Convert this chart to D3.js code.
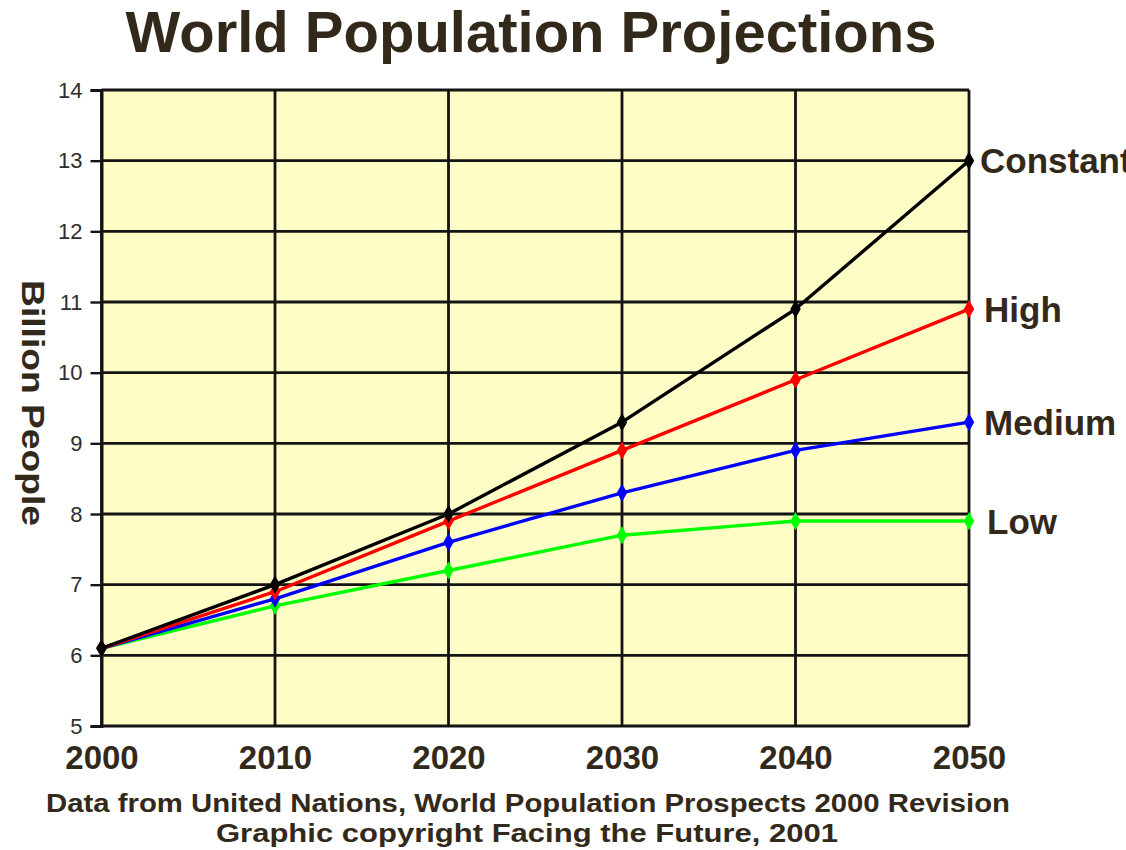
<!DOCTYPE html>
<html>
<head>
<meta charset="utf-8">
<script src="https://cdn.jsdelivr.net/npm/d3@7/dist/d3.min.js"></script>
<style>
  html, body { margin: 0; padding: 0; background: #ffffff; }
  svg { display: block; }
  text { font-family: "Liberation Sans", Arial, Helvetica, sans-serif; }
</style>
</head>
<body>
<svg id="chart" width="1126" height="850"></svg>
<script>
// Projection years and population (billions) per UN variant
const years = [2000, 2010, 2020, 2030, 2040, 2050];
const constantVals = [6.1, 7.0, 8.0, 9.3, 10.9, 13.0];
const highVals     = [6.1, 6.9, 7.9, 8.9, 9.9, 10.9];
const mediumVals   = [6.1, 6.8, 7.6, 8.3, 8.9, 9.3];
const lowVals      = [6.1, 6.7, 7.2, 7.7, 7.9, 7.9];
const seriesNames  = ["Low", "Medium", "High", "Constant"];
const yTicks = [5, 6, 7, 8, 9, 10, 11, 12, 13, 14];

const seriesValues = { Low: lowVals, Medium: mediumVals, High: highVals, Constant: constantVals };
const seriesColors = { Low: "#00ff00", Medium: "#0000ff", High: "#ff0000", Constant: "#000000" };

const textColor = "#33291a";
const gridColor = "#141414";

const svg = d3.select("#chart");
const plotLeft = 101.5, plotRight = 969, plotTop = 90, plotBottom = 726;

const x = d3.scaleLinear().domain([2000, 2050]).range([plotLeft, plotRight]);
const y = d3.scaleLinear().domain([5, 14]).range([plotBottom, plotTop]);

// Title
svg.append("text")
  .attr("x", 531).attr("y", 52)
  .attr("text-anchor", "middle")
  .style("font-size", "58px").style("font-weight", "bold")
  .attr("fill", textColor)
  .text("World Population Projections");

// Plot background
svg.append("rect")
  .attr("x", plotLeft).attr("y", plotTop)
  .attr("width", plotRight - plotLeft).attr("height", plotBottom - plotTop)
  .attr("fill", "#fffdc6");

// Horizontal gridlines
svg.append("g").selectAll("line").data(yTicks).join("line")
  .attr("x1", plotLeft).attr("x2", plotRight)
  .attr("y1", d => y(d)).attr("y2", d => y(d))
  .attr("stroke", gridColor).attr("stroke-width", 2.8);

// Vertical gridlines
svg.append("g").selectAll("line").data(years).join("line")
  .attr("x1", d => x(d)).attr("x2", d => x(d))
  .attr("y1", plotTop).attr("y2", plotBottom)
  .attr("stroke", gridColor).attr("stroke-width", 2.8);

// Y axis with left ticks
const yAxis = d3.axisLeft(y).tickValues(yTicks).tickSize(11).tickPadding(8).tickFormat(d3.format("d"));
const yg = svg.append("g").attr("transform", `translate(${plotLeft},0)`).call(yAxis);
yg.attr("font-size", null).attr("font-family", null);
yg.select(".domain").attr("stroke", gridColor).attr("stroke-width", 3);
yg.selectAll(".tick line").attr("stroke", gridColor).attr("stroke-width", 2.4);
yg.selectAll(".tick text")
  .style("font-size", "22px").attr("fill", "#2e2e2e");

// X axis labels
const xAxis = d3.axisBottom(x).tickValues(years).tickSize(0).tickPadding(20).tickFormat(d3.format("d"));
const xg = svg.append("g").attr("transform", `translate(0,${plotBottom})`).call(xAxis);
xg.attr("font-size", null).attr("font-family", null);
xg.select(".domain").remove();
xg.selectAll(".tick text")
  .style("font-size", "33px").style("font-weight", "bold").attr("fill", textColor);

// Y axis title
svg.append("text")
  .attr("transform", "translate(22,403) rotate(90)")
  .attr("text-anchor", "middle")
  .style("font-size", "31px").style("font-weight", "bold")
  .attr("fill", textColor)
  .attr("textLength", 246).attr("lengthAdjust", "spacingAndGlyphs")
  .text("Billion People");

// Series lines and diamond markers
const line = d3.line().x((d, i) => x(years[i])).y(d => y(d));
const diamond = d3.symbol().type(d3.symbolDiamond).size(95);

seriesNames.forEach(name => {
  const vals = seriesValues[name];
  const g = svg.append("g");
  g.append("path")
    .datum(vals)
    .attr("d", line)
    .attr("fill", "none")
    .attr("stroke", seriesColors[name])
    .attr("stroke-width", 3.4)
    .attr("stroke-linejoin", "round");
  g.selectAll("path.marker").data(vals).join("path")
    .attr("class", "marker")
    .attr("d", diamond)
    .attr("transform", (d, i) => `translate(${x(years[i])},${y(d)})`)
    .attr("fill", seriesColors[name]);
});

// Series end labels
const labelOffsets = { Constant: 11, High: 15, Medium: 15, Low: 18 };
seriesNames.forEach(name => {
  const vals = seriesValues[name];
  svg.append("text")
    .attr("x", plotRight + labelOffsets[name])
    .attr("y", y(vals[vals.length - 1]))
    .attr("dy", "0.36em")
    .style("font-size", "35px")
    .style("font-weight", "bold")
    .attr("fill", textColor)
    .text(name);
});

// Source lines
svg.append("text")
  .attr("x", 528).attr("y", 812)
  .attr("text-anchor", "middle")
  .style("font-size", "26px").style("font-weight", "bold")
  .attr("fill", textColor)
  .attr("textLength", 964).attr("lengthAdjust", "spacingAndGlyphs")
  .text("Data from United Nations, World Population Prospects 2000 Revision");
svg.append("text")
  .attr("x", 527).attr("y", 842)
  .attr("text-anchor", "middle")
  .style("font-size", "26px").style("font-weight", "bold")
  .attr("fill", textColor)
  .attr("textLength", 622).attr("lengthAdjust", "spacingAndGlyphs")
  .text("Graphic copyright Facing the Future, 2001");
</script>
</body>
</html>
